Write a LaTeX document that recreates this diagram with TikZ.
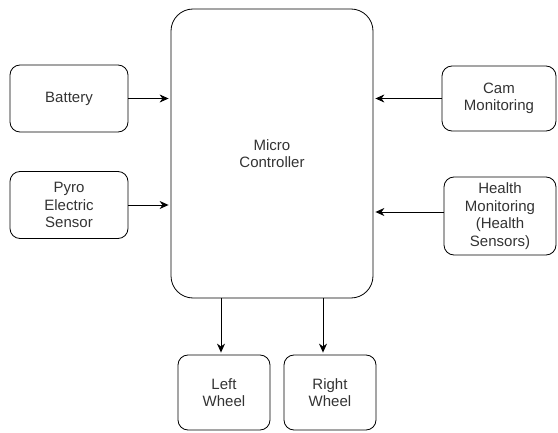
\documentclass[tikz,border=0pt]{standalone}
\usepackage{fontspec}
\setmainfont{Liberation Sans}
\usetikzlibrary{arrows.meta}

\begin{document}
\begin{tikzpicture}
[x=1pt,y=-1pt,
every node/.style={shape=rectangle,rounded corners=10pt,draw,line width=0.8pt,align=center,font=\fontsize{15}{17.5}\selectfont,text=black!80,inner sep=2pt},
box/.style={minimum width=118pt,minimum height=67pt},
wheel/.style={minimum width=92pt,minimum height=75pt},
link/.style={line width=0.9pt,-{Stealth[length=9pt,width=8pt]},shorten >=2pt}]

\useasboundingbox (0,0) rectangle (558,433);

\node[minimum width=202pt,minimum height=289pt,rounded corners=22pt] (mc) at (272,153.5) {Micro\\Controller};

\node[box] (bat) at (69,98.5) {Battery};
\node[box] (pyro) at (69,205) {Pyro\\Electric\\Sensor};
\node[box,minimum width=114pt,minimum height=65pt] (cam) at (499,98.5) {Cam\\Monitoring};
\node[box,minimum width=112pt,minimum height=78pt] (health) at (500,216) {Health\\Monitoring\\(Health\\Sensors)};

\node[wheel] (lw) at (224,392.5) {Left\\Wheel};
\node[wheel] (rw) at (330,392.5) {Right\\Wheel};

\draw[link] (bat) -- (bat -| mc.west);
\draw[link] (pyro) -- (pyro -| mc.west);
\draw[link] (cam) -- (cam -| mc.east);
\draw[link] ([yshift=4pt]health.west) -- ([yshift=4pt]health.west -| mc.east);
\draw[link] ([xshift=-3pt]lw.north |- mc.south) -- ([xshift=-3pt]lw.north);
\draw[link] ([xshift=-7pt]rw.north |- mc.south) -- ([xshift=-7pt]rw.north);
\end{tikzpicture}
\end{document}
